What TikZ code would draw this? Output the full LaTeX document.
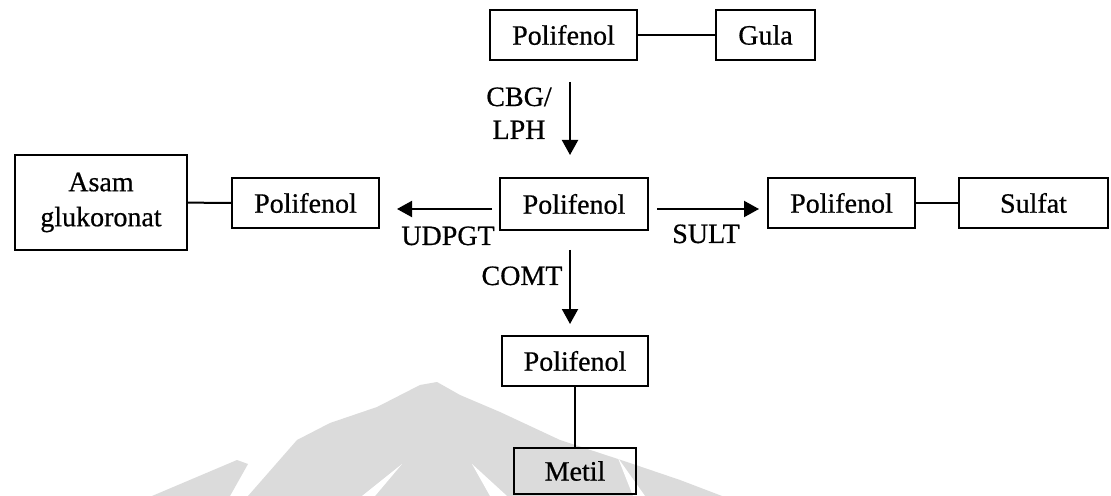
\documentclass[tikz,border=0pt]{standalone}
\usepackage{fontspec}
\setmainfont[FakeBold=0.6]{Liberation Serif}
\usetikzlibrary{arrows.meta}
\begin{document}
\begin{tikzpicture}[x=0.5pt,y=-0.5pt,
  box/.style={draw=black,line width=1pt,inner sep=0pt,align=center,
    font=\fontsize{14}{17.5}\selectfont},
  lbl/.style={inner sep=0pt,anchor=base,font=\fontsize{14}{17}\selectfont},
  conn/.style={line width=1pt},
  arr/.style={line width=1pt,-{Triangle[length=7.5pt,width=8pt]}},
  wm/.style={fill=black!14,draw=none},
  wmcut/.style={fill=white,draw=none}]
\fill[white] (0,0) rectangle (1111,496);
\useasboundingbox (0,0) rectangle (1111,496);
% watermark
\fill[wm] (248,496) -- (297,440) -- (330,423) -- (377,407) -- (420,385) -- (437,382)
  -- (460,395) -- (500,412) -- (560,440) -- (627,462) -- (680,480) -- (722,496) -- cycle;
\fill[wm] (152,496) -- (237,460) -- (248,464) -- (230,496) -- cycle;
\fill[wmcut] (402,464) -- (362,496) -- (375,496) -- cycle;
\fill[wmcut] (472,464) -- (490,496) -- (507,496) -- cycle;
\fill[wmcut] (618,458) -- (633,496) -- (645,496) -- cycle;
% boxes
\node[box,minimum width=73.5pt,minimum height=25pt] (P1) at (563.5,35) {Polifenol};
\node[box,minimum width=49.5pt,minimum height=25pt] (Gula) at (765.5,35) {Gula};
\node[box,minimum width=74pt,minimum height=26pt] (P2) at (574,204) {Polifenol};
\node[box,minimum width=73.5pt,minimum height=25pt] (PL) at (305.5,203) {Polifenol};
\node[box,minimum width=86pt,minimum height=47.5pt] (Asam) at (101,202.5) {Asam\\glukoronat};
\node[box,minimum width=73.5pt,minimum height=25pt] (PR) at (841.5,203) {Polifenol};
\node[box,minimum width=74.5pt,minimum height=25pt] (Sulfat) at (1033.5,203) {Sulfat};
\node[box,minimum width=73pt,minimum height=25pt] (P3) at (575,361) {Polifenol};
\node[box,minimum width=61pt,minimum height=23pt] (Metil) at (575,471) {Metil};
% plain links
\draw[conn] (P1) -- (Gula);
\draw[conn] (Asam) -- (PL);
\draw[conn] (PR) -- (Sulfat);
\draw[conn] (P3) -- (Metil);
% arrows
\coordinate (a1s) at (570,82);
\coordinate (a1e) at (570,155);
\coordinate (a2s) at (492,209);
\coordinate (a2e) at (397,209);
\coordinate (a3s) at (657,209);
\coordinate (a3e) at (759,209);
\coordinate (a4s) at (570,250);
\coordinate (a4e) at (570,324);
\draw[arr] (a1s) -- (a1e);
\draw[arr] (a2s) -- (a2e);
\draw[arr] (a3s) -- (a3e);
\draw[arr] (a4s) -- (a4e);
% labels
\node[lbl] (lcbg) at (519,106) {CBG/};
\node[lbl] (llph) at (519,139) {LPH};
\node[lbl] (ludp) at (448,245) {UDPGT};
\node[lbl] (lsult) at (706,243) {SULT};
\node[lbl] (lcomt) at (522,285) {COMT};
\end{tikzpicture}
\end{document}
